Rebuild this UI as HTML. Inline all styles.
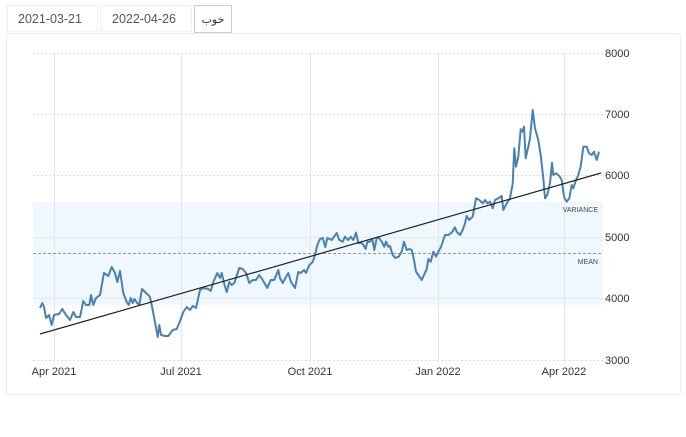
<!DOCTYPE html>
<html><head><meta charset="utf-8"><style>
html,body{margin:0;padding:0;background:#fff;width:686px;height:437px;overflow:hidden;font-family:"Liberation Sans","Noto Sans CJK SC",sans-serif;}
.inp{position:absolute;top:5px;height:27px;border:1px solid #f0f0f0;font-size:12.5px;color:#555;line-height:27px;box-sizing:border-box;}
.btn{position:absolute;left:194px;top:5px;width:38px;height:28px;border:1px solid #ccc;box-sizing:border-box;font-size:11px;color:#333;text-align:center;line-height:28px;background:#fff;}
.card{position:absolute;left:6px;top:33px;width:675px;height:362px;border:1px solid #ececec;border-radius:3px;box-sizing:border-box;}
svg{position:absolute;left:0;top:0;}
</style></head><body>
<div class="card"></div>
<div class="inp" style="left:7px;width:91px;padding-left:10px;">2021-03-21</div>
<div class="inp" style="left:100px;width:92px;padding-left:11px;">2022-04-26</div>
<div class="btn">خوب</div>
<svg width="686" height="437" viewBox="0 0 686 437">
<rect x="33" y="202" width="570" height="103" fill="#f0f7fe"/>
<g stroke="#dcdcdc" stroke-width="1" stroke-dasharray="2,2">
<line x1="33" y1="53.5" x2="603" y2="53.5"/>
<line x1="33" y1="114.5" x2="603" y2="114.5"/>
<line x1="33" y1="175.5" x2="603" y2="175.5"/>
<line x1="33" y1="237.5" x2="603" y2="237.5"/>
<line x1="33" y1="298.5" x2="603" y2="298.5"/>
<line x1="33" y1="360.5" x2="603" y2="360.5"/>
</g>
<g stroke="#e4e4e4" stroke-width="1">
<line x1="54.5" y1="53" x2="54.5" y2="362"/>
<line x1="181.5" y1="53" x2="181.5" y2="362"/>
<line x1="310.5" y1="53" x2="310.5" y2="362"/>
<line x1="438.5" y1="53" x2="438.5" y2="362"/>
<line x1="564.5" y1="53" x2="564.5" y2="362"/>
</g>
<line x1="33" y1="253.5" x2="603" y2="253.5" stroke="#999" stroke-width="1" stroke-dasharray="3,2"/>
<polyline fill="none" stroke="#4682b4" stroke-width="2" stroke-linejoin="round" points="40,308 42.3,303 44,307 46,318 49,315 51.7,325 54,315 59,314 62.3,309 66,315 70,320 73.3,312 76,317 80,317 83.3,301 86,305 89.3,305 91,295 93.3,305 96,298 100,295 104,273 108.3,276 111.7,267 115,273 117.3,282 120,271 123.3,293 126.7,302 128.7,305 130.7,298 132.7,303 134.3,299 137.3,303 139.3,305 142,289 145,292 148.3,295 150,297 152.7,310 155,322 157.7,337 159.3,325 161,335 165,336 168.3,336 172.7,330 176.7,329 179.3,323 183.3,312 186.7,307 190,310 192.7,306 196,308 200,290 203.3,288 208.3,289 210.7,291 213.3,282 217.3,273 220,278 221.7,273 224,283 226.7,292 229.3,282 231.7,285 234.3,283 239.3,268 242.7,269 246,273 249.3,283 252.7,280 256,280 259.3,275 262.7,280 267.3,288 270.7,280 274,280 276,276 278.3,270 280,278 282.7,283 286,277 288.3,273 291,282 295,288 298.3,272 300.7,273 304,270 306,273 309.3,265 312.7,262 315,255 317.3,245 320,239 322.7,238 325.3,247 327.3,238 331.7,240 336.7,233 339.3,240 342.7,241.7 345,236.7 348.3,240 350.7,236.7 353.3,240 356,232.7 358.3,243 361.7,243 364,246 365.7,249 367.3,241.7 370,241.7 372.3,239 374.3,250 376.7,238 379,238 381.7,241.7 384.3,246.7 386,241.7 388.3,246.7 390,246 392.7,255 395.3,258 398.7,256.7 401.7,251.7 404,241.7 406.7,250 409.3,249 411.7,250 414,260 416,271.7 418.3,275 421.7,280 424,275 426.7,269 428.3,259 430.7,261.7 433.3,251.7 436,256.7 438.3,251.7 441,247 443.3,240 445,235 448.3,235 451.7,232.7 455,227.3 456.7,231.7 460,235 462.7,230 465,223.3 466.7,216 469.3,220 472.7,216.7 476,198.3 479.3,200 482.7,203.3 485,200 487.3,203.3 490,201.7 492.7,208.3 495,200 498.3,198.3 501.7,196 503.3,210 506.7,203.3 510,198.3 512.7,183.3 514.3,148.3 516,166.7 518.3,156.7 520.7,129.3 522.3,131.7 524,126.7 525.7,158.3 528.3,146.7 530,138.3 532.7,110 535,128.3 538.3,140 540.7,155 543.3,178.3 545,198.3 547.3,195 550,183.3 552,162.7 553.3,175 556,173.3 559.3,176 561.7,180 564,196.7 566.7,201.7 569.3,198.3 571.7,185 573.3,188.3 576,180 578.3,175 580.7,166.7 583.3,146.7 586.7,146.7 589,153.3 591.7,155 594,151.7 596.7,160 599,151.7"/>
<line x1="40" y1="334" x2="601" y2="173" stroke="#222" stroke-width="1.2"/>
<g font-family="Liberation Sans, sans-serif" font-size="7" fill="#444" text-anchor="end">
<text x="598" y="212">VARIANCE</text>
<text x="598" y="264">MEAN</text>
</g>
<g font-family="Liberation Sans, sans-serif" font-size="11" fill="#333">
<text x="605" y="57">8000</text>
<text x="605" y="118">7000</text>
<text x="605" y="179">6000</text>
<text x="605" y="241">5000</text>
<text x="605" y="302">4000</text>
<text x="605" y="364">3000</text>
</g>
<g font-family="Liberation Sans, sans-serif" font-size="11" fill="#333" text-anchor="middle">
<text x="54" y="375">Apr 2021</text>
<text x="181" y="375">Jul 2021</text>
<text x="310" y="375">Oct 2021</text>
<text x="438" y="375">Jan 2022</text>
<text x="564" y="375">Apr 2022</text>
</g>
</svg>
</body></html>
